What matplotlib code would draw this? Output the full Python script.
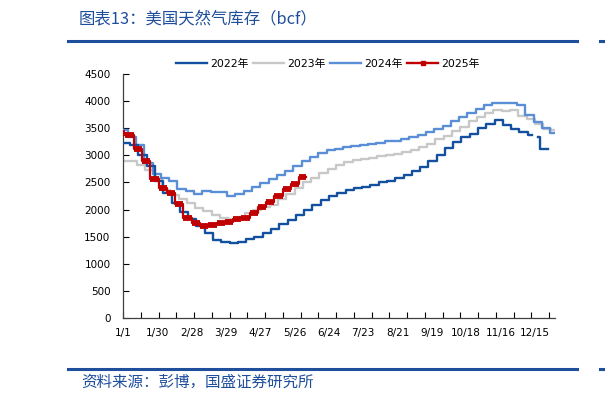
import matplotlib
matplotlib.use("Agg")
import matplotlib.pyplot as plt
from matplotlib.lines import Line2D
import numpy as np

# weekly storage (bcf); first value = carry-over from the previous year end
start_2022 = 3220
vals_2022 = [3194, 3015, 2796, 2528, 2306, 2116, 1960, 1820, 1690, 1560,
             1440, 1410, 1382, 1397, 1450, 1490, 1567, 1643, 1732, 1812,
             1902, 1999, 2091, 2169, 2251, 2311, 2369, 2401, 2416, 2457,
             2501, 2519, 2579, 2640, 2717, 2794, 2897, 2999, 3128, 3253,
             3342, 3394, 3501, 3580, 3644, 3564, 3480, 3430, 3375]
# last days of 2022 (series has a hole before the final drop)
tail_days_2022 = [345.5, 350.5, 352, 359]
tail_vals_2022 = [np.nan, 3340, 3112, 3112]

start_2023 = 2891
vals_2023 = [2902, 2820, 2729, 2583, 2366, 2266, 2195, 2114, 2030, 1972,
             1900, 1853, 1830, 1855, 1930, 1984, 2038, 2092, 2191, 2288,
             2398, 2502, 2586, 2681, 2757, 2829, 2878, 2919, 2935, 2951,
             2980, 3015, 3033, 3065, 3098, 3156, 3205, 3295, 3359, 3445,
             3529, 3626, 3705, 3779, 3833, 3826, 3836, 3719, 3664, 3577,
             3490, 3476]

start_2024 = 3476
vals_2024 = [3336, 3182, 2856, 2659, 2584, 2535, 2374, 2334, 2294, 2334,
             2325, 2332, 2259, 2283, 2333, 2425, 2484, 2563, 2633, 2711,
             2795, 2893, 2967, 3038, 3090, 3122, 3154, 3164, 3186, 3208,
             3229, 3264, 3270, 3306, 3335, 3375, 3433, 3493, 3547, 3629,
             3705, 3781, 3859, 3932, 3969, 3972, 3969, 3937, 3747, 3622,
             3497, 3413]

start_2025 = 3413
vals_2025 = [3371, 3113, 2892, 2571, 2397, 2297, 2101, 1840, 1760, 1698,
             1707, 1744, 1773, 1830, 1846, 1934, 2041, 2145, 2255, 2375,
             2476, 2598]

first_friday = {2022: 6, 2023: 5, 2024: 4, 2025: 2}
last_day = {2023: 364, 2024: 364, 2025: 155}

tick_labels = ["1/1", "1/30", "2/28", "3/29", "4/27", "5/26", "6/24",
               "7/23", "8/21", "9/19", "10/18", "11/16", "12/15"]

c2022 = "#1450a0"
c2023 = "#c8c8c8"
c2024 = "#5a8ed6"
c2025 = "#c00000"
c_head = "#1f4e9c"


def weekly(year, start, vals, end=None):
    d0 = first_friday[year]
    x = [0] + [d0 + 7 * i for i in range(len(vals))]
    y = [start] + list(vals)
    if end is not None:
        x.append(end)
        y.append(vals[-1])
    return np.array(x, dtype=float), np.array(y, dtype=float)


plt.rcParams['font.family'] = ['DejaVu Sans', 'Noto Sans CJK SC']

fig = plt.figure(figsize=(6.05, 3.97), dpi=100)
ax = fig.add_axes([123 / 605, 1 - 318 / 397, 432 / 605, 244 / 397])

x22, y22 = weekly(2022, start_2022, vals_2022)
x22 = np.concatenate([x22, tail_days_2022])
y22 = np.concatenate([y22, tail_vals_2022])
x23, y23 = weekly(2023, start_2023, vals_2023, last_day[2023])
x24, y24 = weekly(2024, start_2024, vals_2024, last_day[2024])
x25, y25 = weekly(2025, start_2025, vals_2025, last_day[2025])

ax.plot(x23, y23, drawstyle='steps-post', color=c2023, lw=1.7, zorder=2)
ax.plot(x24, y24, drawstyle='steps-post', color=c2024, lw=1.7, zorder=3)
ax.plot(x22, y22, drawstyle='steps-post', color=c2022, lw=1.7, zorder=4)
ax.plot(x25, y25, drawstyle='steps-post', color=c2025, lw=1.6, zorder=5)
# the 2025 series has a marker on every day, so the flat parts look thick
ax.hlines(y25[:-1], x25[:-1], x25[1:], color=c2025, lw=4.2, zorder=5)

ax.set_xlim(0, 365)
ax.set_ylim(0, 4500)
ax.set_yticks(np.arange(0, 4501, 500))
ax.xaxis.remove_overlapping_locs = False
ax.set_xticks(np.arange(0, 361, 15))
ax.set_xticklabels([])
ax.set_xticks([29 * i for i in range(len(tick_labels))], minor=True)
ax.set_xticklabels(tick_labels, minor=True)
ax.tick_params(axis='x', which='major', direction='in', length=4, width=0.8)
ax.tick_params(axis='x', which='minor', length=0, pad=7, labelsize=7.5)
ax.tick_params(axis='y', direction='in', length=4, width=0.8, pad=9, labelsize=7.5)
for s in ['top', 'right']:
    ax.spines[s].set_visible(False)
for s in ['left', 'bottom']:
    ax.spines[s].set_color('#404040')
    ax.spines[s].set_linewidth(0.9)

handles = [Line2D([], [], color=c2022, lw=1.7),
           Line2D([], [], color=c2023, lw=1.7),
           Line2D([], [], color=c2024, lw=1.7),
           Line2D([], [], color=c2025, lw=1.7, marker='s', markersize=3.5)]
fig.legend(handles, ["2022年", "2023年", "2024年", "2025年"], loc='center',
           bbox_to_anchor=(328 / 605, 1 - 64 / 397), ncol=4, frameon=False,
           fontsize=7.8, handlelength=2.9, handletextpad=0.3,
           columnspacing=0.35)

# header / footer
fig.text(79 / 605, 1 - 19 / 397, "图表13：美国天然气库存（bcf）", color=c_head,
         fontsize=11.8, va='center', ha='left', family='Noto Sans CJK SC')
fig.add_artist(Line2D([68 / 605, 577 / 605], [1 - 40.5 / 397] * 2,
                      transform=fig.transFigure, color=c_head, lw=2.2))
fig.add_artist(Line2D([600 / 605, 1], [1 - 40.5 / 397] * 2,
                      transform=fig.transFigure, color=c_head, lw=2.2))
fig.add_artist(Line2D([68 / 605, 577 / 605], [1 - 369 / 397] * 2,
                      transform=fig.transFigure, color=c_head, lw=2.2))
fig.add_artist(Line2D([600 / 605, 1], [1 - 369 / 397] * 2,
                      transform=fig.transFigure, color=c_head, lw=2.2))
fig.text(81 / 605, 1 - 382.5 / 397, "资料来源：彭博，国盛证券研究所", color=c_head,
         fontsize=11.2, va='center', ha='left', family='Noto Sans CJK SC')

fig.savefig("out.png", dpi=100)
